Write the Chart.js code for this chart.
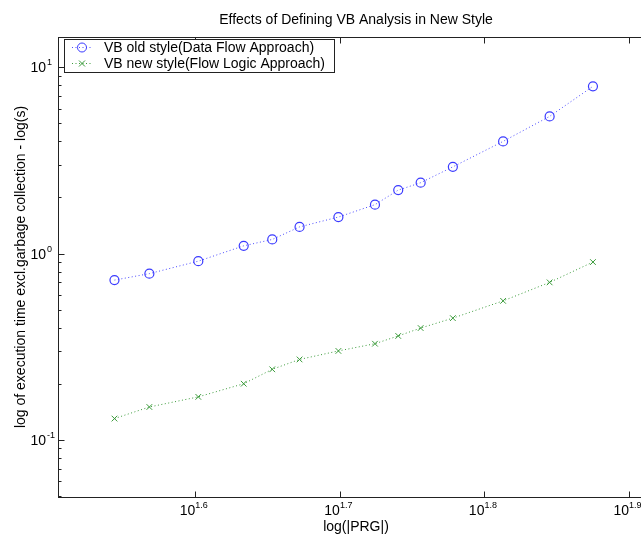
<!DOCTYPE html>
<html>
<head>
<meta charset="utf-8">
<script src="https://cdn.jsdelivr.net/npm/chart.js@4.4.0/dist/chart.umd.min.js"></script>
<style>
  html, body { margin: 0; padding: 0; background: #fff; overflow: hidden; }
  #wrap { width: 680px; height: 540px; }
</style>
</head>
<body>
<div id="wrap"><canvas id="chart" width="680" height="540"></canvas></div>
<script>
// data
const prgSizes = [35, 37, 40, 43, 45, 47, 50, 53, 55, 57, 60, 65, 70, 75];
const oldStyleTimes = [0.72, 0.78, 0.91, 1.1, 1.19, 1.39, 1.57, 1.83, 2.19, 2.4, 2.92, 4.0, 5.45, 7.9];
const newStyleTimes = [0.13, 0.15, 0.17, 0.2, 0.239, 0.27, 0.30, 0.328, 0.361, 0.398, 0.45, 0.557, 0.70, 0.90];
const seriesNames = ["VB old style(Data Flow Approach)", "VB new style(Flow Logic Approach)"];
const xTickExps = ["1.6", "1.7", "1.8", "1.9"];
const yTickExps = ["1", "0", "-1"];

const titleText = "Effects of Defining VB Analysis in New Style";
const xTitle = "log(|PRG|)";
const yTitle = "log of execution time excl.garbage collection - log(s)";

const blue = "#4a4aff";
const green = "#3a9a3a";
const FONT = "Liberation Sans, Arial, sans-serif";

function pts(xs, ys) {
    return xs.map((x, i) => ({ x: x, y: ys[i] }));
}

// matlab-like axes box, ticks, labels, legend
const matlabAxes = {
    id: "matlabAxes",
    afterDraw(chart) {
        const ctx = chart.ctx;
        const a = chart.chartArea;
        const xs = chart.scales.x, ys = chart.scales.y;
        const L = Math.round(a.left) + 0.5, R = Math.round(a.right) + 0.5;
        const T = Math.round(a.top) + 0.5, B = Math.round(a.bottom) + 0.5;
        ctx.save();
        ctx.strokeStyle = "#222";
        ctx.lineWidth = 1;
        ctx.strokeRect(L, T, R - L, B - T);

        ctx.beginPath();
        // x major ticks top and bottom
        xTickExps.forEach(e => {
            const px = Math.round(xs.getPixelForValue(Math.pow(10, +e))) + 0.5;
            ctx.moveTo(px, B); ctx.lineTo(px, B - 6);
            ctx.moveTo(px, T); ctx.lineTo(px, T + 6);
        });
        // y major + minor ticks
        for (let d = -2; d <= 1; d++) {
            for (let k = 1; k <= 9; k++) {
                const v = k * Math.pow(10, d);
                if (v < ys.min || v > ys.max) continue;
                const py = Math.round(ys.getPixelForValue(v)) + 0.5;
                const len = k === 1 ? 6 : 3;
                ctx.moveTo(L, py); ctx.lineTo(L + len, py);
                ctx.moveTo(R, py); ctx.lineTo(R - len, py);
            }
        }
        ctx.stroke();

        ctx.fillStyle = "#000";
        // x tick labels 10^e
        xTickExps.forEach(e => {
            const px = xs.getPixelForValue(Math.pow(10, +e));
            ctx.font = "14px " + FONT;
            ctx.textAlign = "right";
            ctx.textBaseline = "alphabetic";
            ctx.fillText("10", px, 515);
            ctx.font = "9px " + FONT;
            ctx.textAlign = "left";
            ctx.fillText(e, px, 508);
        });
        // y tick labels
        yTickExps.forEach(e => {
            const py = ys.getPixelForValue(Math.pow(10, +e));
            ctx.font = "14px " + FONT;
            ctx.textAlign = "right";
            ctx.textBaseline = "alphabetic";
            ctx.fillText("10", 46, py + 5);
            ctx.font = "9px " + FONT;
            ctx.textAlign = "left";
            ctx.fillText(e, 47, py - 2);
        });

        // titles
        const cx = (a.left + a.right) / 2;
        ctx.font = "14px " + FONT;
        ctx.textAlign = "center";
        ctx.fillText(titleText, cx, 24);
        ctx.fillText(xTitle, cx, 531);
        ctx.save();
        ctx.translate(25, (a.top + a.bottom) / 2);
        ctx.rotate(-Math.PI / 2);
        ctx.fillText(yTitle, 0, 0);
        ctx.restore();

        // legend
        ctx.fillStyle = "#fff";
        ctx.fillRect(64.5, 39.5, 270, 33);
        ctx.strokeStyle = "#222";
        ctx.strokeRect(64.5, 39.5, 270, 33);
        const rows = [47, 63];
        chart.data.datasets.forEach((ds, i) => {
            const y = rows[i];
            ctx.strokeStyle = ds.borderColor;
            ctx.lineWidth = 1;
            ctx.setLineDash(ds.borderDash);
            ctx.beginPath();
            ctx.moveTo(72, y + 0.5); ctx.lineTo(92, y + 0.5);
            ctx.stroke();
            ctx.setLineDash([]);
            ctx.strokeStyle = ds.pointBorderColor;
            ctx.beginPath();
            if (ds.pointStyle === "circle") {
                ctx.arc(82, y + 0.5, 4.5, 0, Math.PI * 2);
            } else {
                ctx.moveTo(79, y - 2.5); ctx.lineTo(85, y + 3.5);
                ctx.moveTo(85, y - 2.5); ctx.lineTo(79, y + 3.5);
            }
            ctx.stroke();
            ctx.fillStyle = "#000";
            ctx.font = "14px " + FONT;
            ctx.textAlign = "left";
            ctx.textBaseline = "middle";
            ctx.fillText(ds.label, 104, y + 1);
        });
        ctx.restore();
    }
};

new Chart(document.getElementById("chart"), {
    type: "scatter",
    data: {
        datasets: [
            {
                label: seriesNames[0],
                data: pts(prgSizes, oldStyleTimes),
                showLine: true,
                borderColor: blue,
                borderWidth: 1,
                borderDash: [1, 2.5],
                pointStyle: "circle",
                pointRadius: 4.5,
                pointBorderWidth: 1.2,
                pointBorderColor: "#3a3aff",
                pointBackgroundColor: "rgba(0,0,0,0)"
            },
            {
                label: seriesNames[1],
                data: pts(prgSizes, newStyleTimes),
                showLine: true,
                borderColor: green,
                borderWidth: 1,
                borderDash: [1, 2.5],
                pointStyle: "crossRot",
                pointRadius: 4,
                pointBorderWidth: 1,
                pointBorderColor: green,
                pointBackgroundColor: "rgba(0,0,0,0)"
            }
        ]
    },
    options: {
        responsive: false,
        animation: false,
        events: [],
        layout: { padding: { left: 0, top: 37, right: 26, bottom: 43 } },
        plugins: {
            legend: { display: false },
            title: { display: false },
            tooltip: { enabled: false }
        },
        scales: {
            x: {
                type: "logarithmic",
                min: Math.pow(10, 1.505),
                max: Math.pow(10, 1.9173),
                grid: { display: false },
                border: { display: false },
                ticks: { display: false },
                afterFit: s => { s.height = 0; }
            },
            y: {
                type: "logarithmic",
                min: 0.0493,
                max: 14.54,
                grid: { display: false },
                border: { display: false },
                ticks: { display: false },
                afterFit: s => { s.width = 58; }
            }
        }
    },
    plugins: [matlabAxes]
});
</script>
</body>
</html>
